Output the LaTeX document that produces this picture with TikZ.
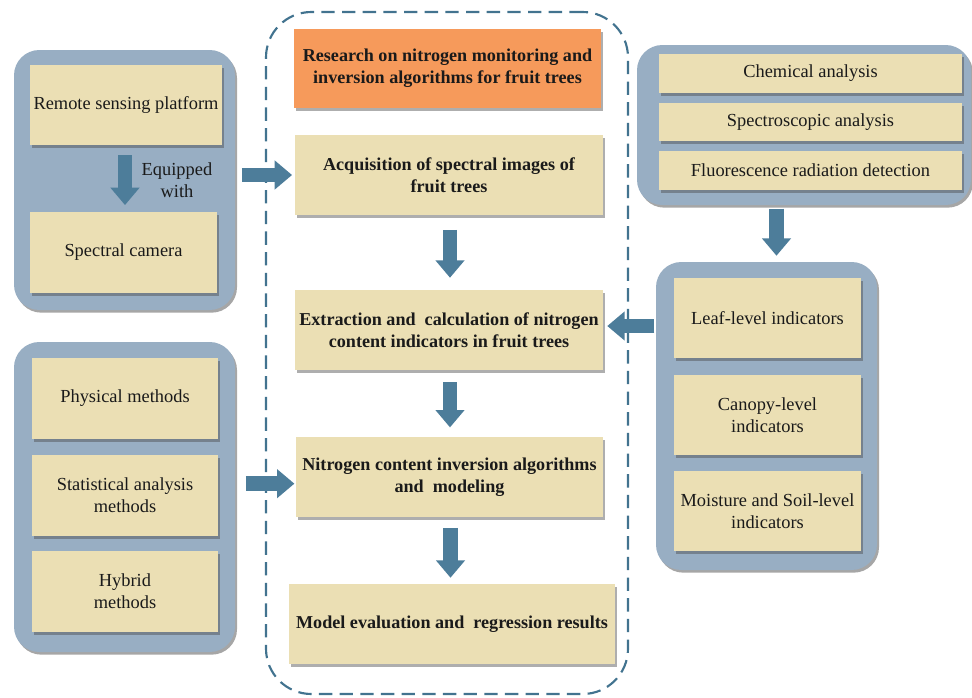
\documentclass[tikz,border=0pt]{standalone}
\usepackage{fontspec}
\setmainfont{Liberation Serif}
\usetikzlibrary{arrows.meta,shadows,fit}
\definecolor{grpc}{HTML}{98AEC3}
\definecolor{boxc}{HTML}{EBDFB4}
\definecolor{orgc}{HTML}{F69A5B}
\definecolor{arrc}{HTML}{4D7D9A}
\definecolor{dashc}{HTML}{42738F}
\definecolor{txtc}{HTML}{1A1A1A}
\begin{document}
\begin{tikzpicture}[x=0.75pt,y=-0.75pt,
  rect/.style n args={4}{minimum width={(#3-#1)*0.75pt}, minimum height={(#4-#2)*0.75pt},
    at={({(#1+#3)/2},{(#2+#4)/2})}},
  grp/.style={fill=grpc, rounded corners=19pt, inner sep=0pt,
    drop shadow={shadow xshift=1.5pt, shadow yshift=-2pt, opacity=0.35, fill=black}},
  box/.style={fill=boxc, inner sep=0pt, align=center, text=txtc, font=\fontsize{13.8}{16.5}\selectfont,
    drop shadow={shadow xshift=1.5pt, shadow yshift=-2pt, opacity=0.45, fill=black!70}},
  cbox/.style={box, font=\bfseries\fontsize{13.6}{16.5}\selectfont},
  dashbox/.style={draw=dashc, line width=1.6pt, dash pattern=on 10pt off 5.5pt, rounded corners=34pt, inner sep=0pt},
  barrow/.style={draw=arrc, line width=11pt, -{Triangle[length=13pt, width=21pt]}}
]
\useasboundingbox (0,0) rectangle (972,697);
% groups
\node[grp, fit={(14,50) (235,310)}] (lg1) {};
\node[grp, fit={(14,342) (235,652)}] (lg2) {};
\node[grp, fit={(637,45) (971,205)}] (rt) {};
\node[grp, fit={(656,262) (877,570)}] (rb) {};
% central dashed frame
\node[dashbox, fit={(266,12) (628,694)}] (main) {};
% left top
\node[box, rect={30}{65}{222}{145}] (rsp) {Remote sensing platform};
\node[box, rect={30}{212}{217}{293}] (cam) {Spectral camera};
\node[text=txtc, align=center, font=\fontsize{13.8}{16.5}\selectfont] (eq) at (177,180) {Equipped\\with};
% left bottom
\node[box, rect={32}{358}{218}{439}] (phy) {Physical methods};
\node[box, rect={32}{455}{218}{536}] (sta) {Statistical analysis\\methods};
\node[box, rect={32}{551}{218}{632}] (hyb) {Hybrid\\methods};
% right top
\node[box, rect={659}{54}{962}{93}] (che) {Chemical analysis};
\node[box, rect={659}{103}{962}{141}] (spe) {Spectroscopic analysis};
\node[box, rect={659}{151}{962}{190}] (flu) {Fluorescence radiation detection};
% right bottom
\node[box, rect={674}{278}{861}{358}] (leaf) {Leaf-level indicators};
\node[box, rect={674}{375}{861}{455}] (can) {Canopy-level\\indicators};
\node[box, rect={674}{471}{861}{551}] (moi) {Moisture and Soil-level\\indicators};
% center
\node[cbox, fill=orgc, rect={294}{29}{601}{108}] (res) {Research on nitrogen monitoring and\\inversion algorithms for fruit trees};
\node[cbox, rect={295}{135}{603}{215}] (acq) {Acquisition of spectral images of\\fruit trees};
\node[cbox, rect={295}{290}{603}{370}] (ext) {Extraction and\ \ calculation of nitrogen\\content indicators in fruit trees};
\node[cbox, rect={296}{437}{603}{517}] (inv) {Nitrogen content inversion algorithms\\and\ \ modeling};
\node[cbox, rect={289}{584}{615}{664}] (mod) {Model evaluation and\ \ regression results};
% arrows
\draw[barrow, shorten <=7.5pt, shorten >=5pt] ([xshift=-0.75pt]rsp.south) -- ([xshift=-0.75pt]rsp.south |- cam.north);
\draw[barrow, shorten <=5pt, shorten >=2pt] (lg1.east |- acq.west) -- (acq.west);
\draw[barrow, shorten <=11pt, shorten >=9pt] ([xshift=0.75pt]acq.south) -- ([xshift=0.75pt]acq.south |- ext.north);
\draw[barrow, shorten <=9pt, shorten >=7pt] ([xshift=0.75pt]ext.south) -- ([xshift=0.75pt]ext.south |- inv.north);
\draw[barrow, shorten <=8pt, shorten >=4.5pt] ([xshift=0.75pt]inv.south) -- ([xshift=0.75pt]inv.south |- mod.north);
\draw[barrow, shorten <=8pt, shorten >=1pt] ([yshift=-5pt]lg2.east |- inv.west) -- ([yshift=-5pt]inv.west);
\draw[barrow, shorten <=2.5pt, shorten >=4.5pt] ([xshift=7.5pt]rb.north |- rt.south) -- ([xshift=7.5pt]rb.north);
\draw[barrow, shorten <=1pt, shorten >=3pt] ([yshift=3pt]rb.west |- ext.east) -- ([yshift=3pt]ext.east);
\end{tikzpicture}
\end{document}
